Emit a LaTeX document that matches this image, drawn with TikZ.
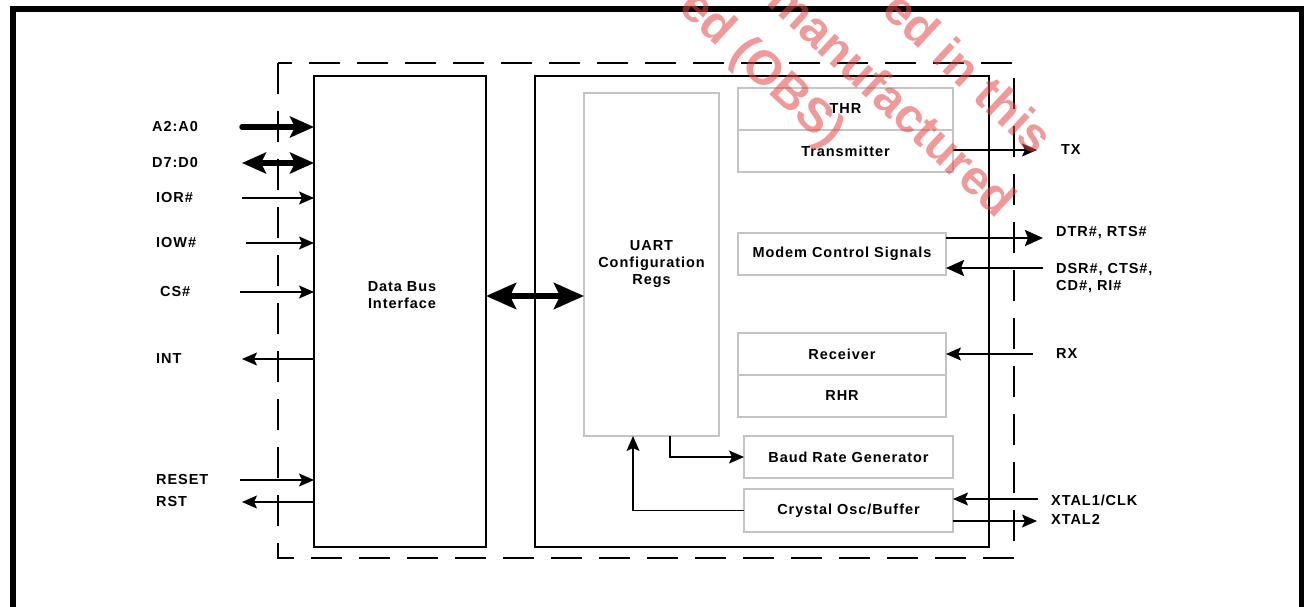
\documentclass[tikz,border=0pt]{standalone}
\usepackage{fontspec}
\setmainfont{Liberation Sans}
\usetikzlibrary{positioning,arrows.meta}
\definecolor{boxgray}{RGB}{196,196,196}
\definecolor{stamp}{RGB}{228,70,70}

\begin{document}
\begin{tikzpicture}[x=1pt, y=-1pt,
  font=\fontsize{14.5}{17}\selectfont\bfseries\addfontfeature{LetterSpace=6.5},
  blk/.style={draw, line width=2pt, inner sep=0pt, outer sep=0pt},
  box/.style={draw=boxgray, line width=1.5pt, inner sep=0pt, outer sep=0pt, align=center},
  pin/.style={anchor=west, inner sep=0pt},
  arr/.style={-{Stealth[length=15pt, width=13pt, inset=3pt]}, line width=1.6pt},
  grp/.style={-{Stealth[length=18pt, width=16pt, inset=3pt]}, line width=2.6pt},
  bus/.style={-{Stealth[length=24pt, width=21pt, inset=5pt]}, line width=5.5pt, line cap=round},
  dbus/.style={{Stealth[length=24pt, width=21pt, inset=5pt]}-{Stealth[length=24pt, width=21pt, inset=5pt]}, line width=5.5pt},
  wide/.style={{Stealth[length=30pt, width=26pt, inset=6pt]}-{Stealth[length=30pt, width=26pt, inset=6pt]}, line width=6.5pt},
  wm/.style={font=\fontsize{48}{55}\selectfont\bfseries, text=stamp, opacity=0.55, rotate=-43, inner sep=0pt}]
\useasboundingbox (0,0) rectangle (1304,607);

% frame and chip outline
\draw[line width=6pt] (12.5,607) -- (12.5,9) -- (1302,9) -- (1302,607);
\draw[line width=1.5pt, dash pattern=on 31pt off 17pt] (278,63) rectangle (1014,558);

% blocks
\node[blk, minimum width=172pt, minimum height=471pt] (dbi) at (400,311.5) {};
\node[align=center] (dbitxt) at (402,295) {Data Bus\\Interface};
\node[blk, minimum width=454pt, minimum height=471pt] (core) at (762,311.5) {};
\node[box, minimum width=135pt, minimum height=343pt] (regs) at (651.5,264.5) {UART\\Configuration\\Regs};
\node[box, minimum width=215pt, minimum height=42pt] (thr) at (845.5,109) {THR};
\node[box, minimum width=215pt, minimum height=42pt, below=0pt of thr] (tx) {Transmitter};
\node[box, minimum width=208pt, minimum height=42pt] (msr) at (842,254) {Modem Control Signals};
\node[box, minimum width=208pt, minimum height=42pt] (rx) at (842,354) {Receiver};
\node[box, minimum width=208pt, minimum height=42pt, below=0pt of rx] (rhr) {RHR};
\node[box, minimum width=209pt, minimum height=42pt] (brg) at (848.5,457) {Baud Rate Generator};
\node[box, minimum width=209pt, minimum height=43pt] (osc) at (848.5,510.5) {Crystal Osc/Buffer};

% host side pins
\coordinate (a2) at (242,127);
\coordinate (d7) at (242,163);
\coordinate (ior) at (242,198);
\coordinate (iow) at (246,243);
\coordinate (cs) at (240,292);
\coordinate (int) at (242,359);
\coordinate (reset) at (240,480);
\coordinate (rst) at (242,502);
\node[pin] (a2l) at (152,127) {A2:A0};
\node[pin] (d7l) at (152,163) {D7:D0};
\node[pin] (iorl) at (156,198) {IOR\#};
\node[pin] (iowl) at (156,243) {IOW\#};
\node[pin] (csl) at (160,292) {CS\#};
\node[pin] (intl) at (156,359) {INT};
\node[pin] (resetl) at (156,480) {RESET};
\node[pin] (rstl) at (156,502) {RST};
\draw[bus] (a2) -- (a2 -| dbi.west);
\draw[dbus] (d7) -- (d7 -| dbi.west);
\draw[arr] (ior) -- (ior -| dbi.west);
\draw[arr] (iow) -- (iow -| dbi.west);
\draw[arr] (cs) -- (cs -| dbi.west);
\draw[arr] (int -| dbi.west) -- (int);
\draw[arr] (reset) -- (reset -| dbi.west);
\draw[arr] (rst -| dbi.west) -- (rst);

% serial side pins
\coordinate (txo) at (1037,150);
\coordinate (dtr) at (1043,238);
\coordinate (dsr) at (1043,268);
\coordinate (rxi) at (1033,354);
\coordinate (xt1) at (1038,499);
\coordinate (xt2) at (1037,521);
\node[pin] (txl) at (1061,150) {TX};
\node[pin] (dtrl) at (1056,233) {DTR\#, RTS\#};
\node[pin, align=left] (dsrl) at (1056,278.5) {DSR\#, CTS\#,\\CD\#, RI\#};
\node[pin] (rxl) at (1056,354) {RX};
\node[pin] (xt1l) at (1051,500) {XTAL1/CLK};
\node[pin] (xt2l) at (1051,519) {XTAL2};
\draw[arr] (txo -| tx.east) -- (txo);
\draw[grp] (dtr -| msr.east) -- (dtr);
\draw[grp] (dsr) -- (dsr -| msr.east);
\draw[arr] (rxi) -- (rxi -| rx.east);
\draw[arr] (xt1) -- (xt1 -| osc.east);
\draw[arr] (xt2 -| osc.east) -- (xt2);

% internal
\coordinate (busy) at (0,296);
\draw[wide] (busy -| dbi.east) -- (busy -| regs.west);
\draw[arr] ([xshift=18.5pt]regs.south) |- (brg.west);
\draw[arr] (osc.west) -| ([xshift=-18.5pt]regs.south);

% stamp
\begin{scope}
\clip (0,0) rectangle (1304,607);
\node[wm] (wm1) at (761,70) {ed (OBS)};
\node[wm] (wm2) at (893,99) {manufactured};
\node[wm] (wm3) at (969,72) {ed in this};
\end{scope}
\end{tikzpicture}
\end{document}
